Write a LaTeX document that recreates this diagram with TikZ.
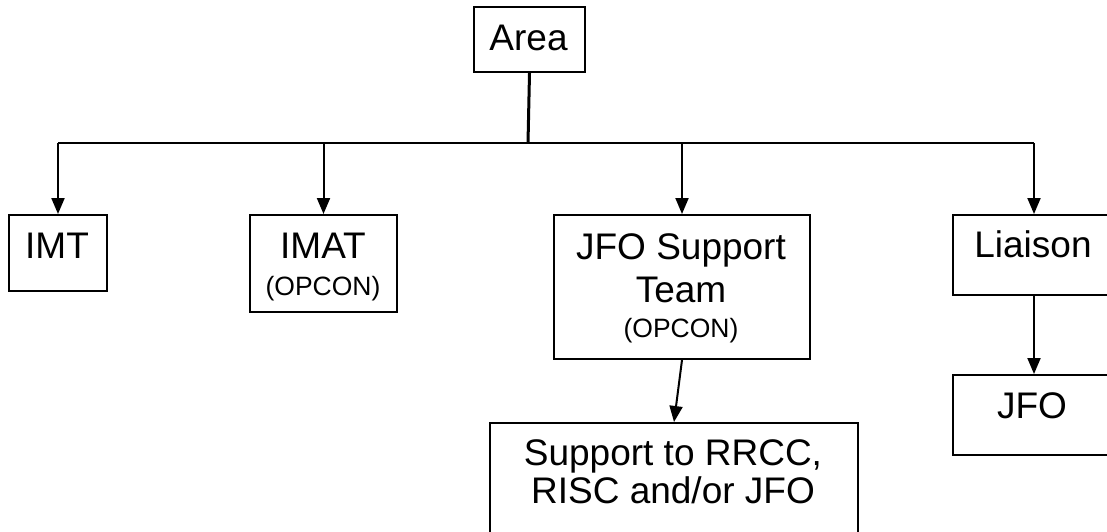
\documentclass[tikz,border=0pt]{standalone}
\usepackage{fontspec}
\setmainfont{Liberation Sans}
\usetikzlibrary{arrows.meta}
\tikzset{
  box/.style={draw, line width=2pt, inner sep=0pt, anchor=north west},
  conn/.style={line width=2pt},
  arr/.style={line width=2pt, -{Triangle[length=16pt,width=13pt]}},
  big/.style={anchor=base, inner sep=0pt, font=\fontsize{37}{40}\selectfont},
  small/.style={anchor=base, inner sep=0pt, font=\fontsize{26.5}{30}\selectfont}
}
\begin{document}
\begin{tikzpicture}[x=1pt,y=-1pt]
\clip (0,0) rectangle (1107,531);
\fill[white] (0,0) rectangle (1107,531);
% boxes
\node[box, minimum width=111pt, minimum height=65pt] (area) at (473,6) {};
\node[box, minimum width=98pt, minimum height=76pt] (imt) at (8,214) {};
\node[box, minimum width=147pt, minimum height=97pt] (imat) at (249,214) {};
\node[box, minimum width=256pt, minimum height=144pt] (jst) at (553,214) {};
\node[box, minimum width=162pt, minimum height=80pt] (liaison) at (952,214) {};
\node[box, minimum width=162pt, minimum height=80pt] (jfo) at (952,374) {};
\node[box, minimum width=368pt, minimum height=130pt] (sup) at (489,422) {};
% texts
\node[big] (tarea) at (528.5,50) {Area};
\node[big] (timt) at (57,258) {IMT};
\node[big] (timat) at (323,258) {IMAT};
\node[small] (timat2) at (323,295) {(OPCON)};
\node[big] (tjst1) at (681,259) {JFO Support};
\node[big] (tjst2) at (681,302) {Team};
\node[small] (tjst3) at (681,337) {(OPCON)};
\node[big] (tliaison) at (1033,257) {Liaison};
\node[big] (tjfo) at (1032,418) {JFO};
\node[big] (tsup1) at (673,465) {Support to RRCC,};
\node[big] (tsup2) at (673,503) {RISC and/or JFO};
% connectors
\coordinate (bus) at (528,143);
\draw[line width=3pt] (area.south) -- (bus);
\draw[conn] (imt.north |- bus) -- (liaison.north |- bus);
\draw[arr] (imt.north |- bus) -- (imt.north);
\draw[arr] (imat.north |- bus) -- (imat.north);
\draw[arr] (jst.north |- bus) -- (jst.north);
\draw[arr] (liaison.north |- bus) -- (liaison.north);
\draw[arr] (jst.south) -- (sup.north);
\draw[arr] (liaison.south) -- (jfo.north);
\end{tikzpicture}
\end{document}
